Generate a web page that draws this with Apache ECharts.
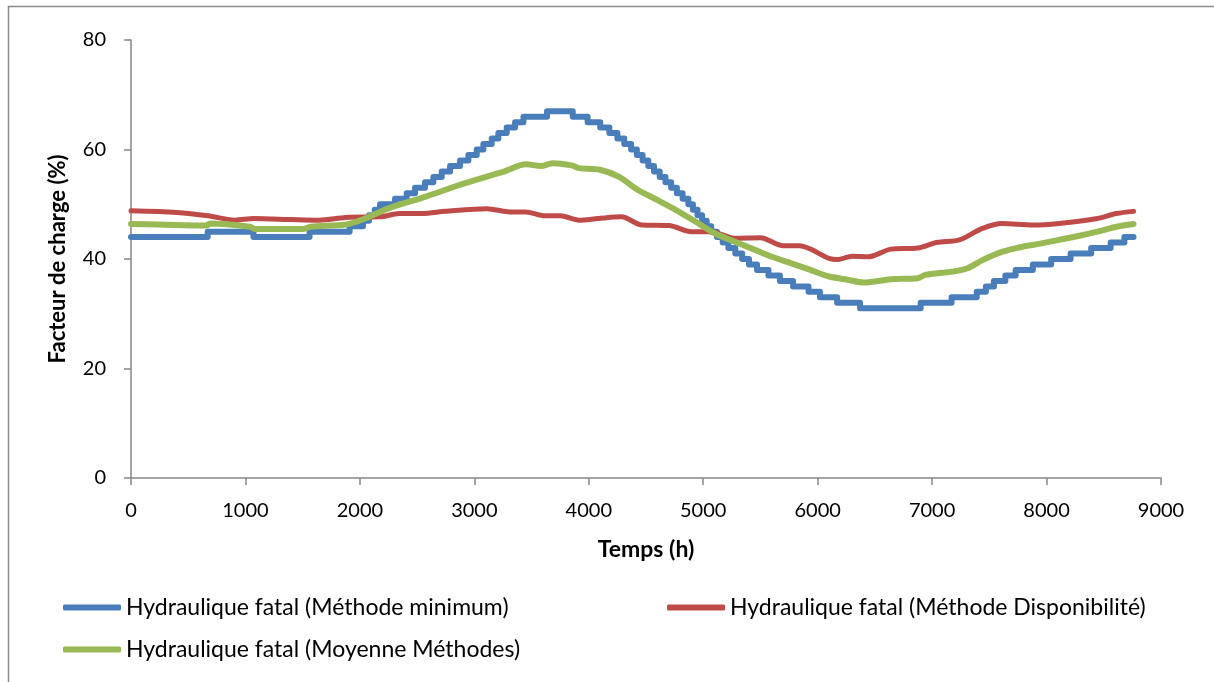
<!DOCTYPE html>
<html>
<head>
    <meta charset="utf-8">
    <title>Facteur de charge</title>
    <style>
        body{
            margin: 0;
            padding: 0;
            background: #fff;
        }
        #container{
            width: 1214px;
            height: 682px;
        }
    </style>
</head>
<body>
    <div id="container"></div>

    <script src="https://cdn.jsdelivr.net/npm/echarts@6/dist/echarts.min.js"></script>
    <script type="text/javascript">
    // noms des séries
    var nameMin = 'Hydraulique fatal (Méthode minimum)';
    var nameDispo = 'Hydraulique fatal (Méthode Disponibilité)';
    var nameMoy = 'Hydraulique fatal (Moyenne Méthodes)';

    // méthode minimum : paliers (heure de début, valeur)
    var minHours = [0, 670, 1070, 1560, 1910, 2027, 2080, 2130, 2176, 2307, 2409, 2482, 2569, 2642, 2715, 2788,
        2875, 2948, 3021, 3079, 3152, 3210, 3283, 3356, 3429, 3635, 3860, 3990, 4100, 4180, 4250, 4310,
        4370, 4420, 4470, 4520, 4570, 4620, 4670, 4720, 4770, 4820, 4870, 4910, 4950, 4990, 5030, 5070,
        5120, 5170, 5220, 5280, 5340, 5400, 5470, 5570, 5670, 5785, 5920, 6020, 6170, 6370, 6900, 7170,
        7390, 7470, 7540, 7640, 7730, 7880, 8040, 8210, 8390, 8560, 8680, 8760];
    var minValues = [44, 45, 44, 45, 46, 47, 48, 49, 50, 51, 52, 53, 54, 55, 56, 57,
        58, 59, 60, 61, 62, 63, 64, 65, 66, 67, 66, 65, 64, 63, 62, 61,
        60, 59, 58, 57, 56, 55, 54, 53, 52, 51, 50, 49, 48, 47, 46, 45,
        44, 43, 42, 41, 40, 39, 38, 37, 36, 35, 34, 33, 32, 31, 32, 33,
        34, 35, 36, 37, 38, 39, 40, 41, 42, 43, 44, 44];

    // méthode disponibilité
    var dispoHours = [0, 400, 673, 907, 1074, 1410, 1645, 1877, 2176, 2343, 2543, 2745, 3110, 3311, 3450, 3615,
        3750, 3915, 4083, 4285, 4465, 4700, 4900, 5070, 5270, 5500, 5700, 5840, 6100, 6170, 6305, 6440,
        6640, 6875, 7040, 7240, 7440, 7610, 7880, 8110, 8445, 8610, 8760];
    var dispoValues = [48.8, 48.5, 47.9, 47.1, 47.4, 47.2, 47.1, 47.6, 47.7, 48.3, 48.3, 48.7, 49.2, 48.6, 48.6, 47.9,
        47.9, 47.1, 47.4, 47.7, 46.2, 46.1, 45.0, 45.0, 43.8, 43.9, 42.4, 42.4, 40.1, 39.9, 40.5, 40.4,
        41.8, 42.0, 43.0, 43.5, 45.6, 46.5, 46.2, 46.5, 47.4, 48.3, 48.7];

    // moyenne des méthodes
    var moyHours = [0, 236, 660, 690, 1040, 1080, 1508, 1570, 1877, 2045, 2245, 2575, 2912, 3248, 3450, 3583,
        3684, 3850, 3915, 4098, 4265, 4430, 4597, 4767, 4935, 5100, 5270, 5436, 5600, 5770, 5937, 6100,
        6240, 6405, 6640, 6875, 6940, 7175, 7310, 7440, 7610, 7780, 7946, 8110, 8276, 8445, 8610, 8760];
    var moyValues = [46.4, 46.3, 46.1, 46.5, 45.9, 45.5, 45.5, 45.9, 46.3, 47.4, 49.2, 51.4, 53.8, 55.9, 57.3, 57.0,
        57.5, 57.1, 56.6, 56.3, 55.0, 52.6, 50.8, 48.9, 46.8, 44.7, 43.2, 41.8, 40.4, 39.2, 38.0, 36.8,
        36.3, 35.7, 36.3, 36.5, 37.1, 37.7, 38.3, 39.8, 41.3, 42.2, 42.8, 43.5, 44.2, 45.0, 45.9, 46.4];

    // ticks
    var xTicks = [0, 1000, 2000, 3000, 4000, 5000, 6000, 7000, 8000, 9000];
    var yTicks = [0, 20, 40, 60, 80];

    function pairs(xs, ys) {
        var out = [];
        for (var i = 0; i < xs.length; i++) out.push([xs[i], ys[i]]);
        return out;
    }

    var fontFam = 'Lato, "Open Sans", sans-serif';
    var axisGrey = '#868686';
    var legendText = {fontSize: 23, color: '#000', fontFamily: fontFam};

    var myChart = echarts.init(document.getElementById('container'), null, {renderer: 'canvas'});

    var option = {
        animation: false,
        backgroundColor: '#fff',
        textStyle: {fontFamily: fontFam},
        grid: {left: 131, right: 53, top: 40, bottom: 204, containLabel: false},
        graphic: [{
            // bordure de la zone du graphique
            type: 'rect',
            shape: {x: 8.5, y: 6.5, width: 1300, height: 800},
            style: {fill: 'none', stroke: '#8c8c8c', lineWidth: 1.5},
            silent: true
        }],
        legend: [{
            data: [nameMin],
            left: 58, top: 591,
            itemWidth: 58, itemHeight: 6, icon: 'roundRect',
            textStyle: legendText
        }, {
            data: [nameDispo],
            left: 662, top: 591,
            itemWidth: 58, itemHeight: 6, icon: 'roundRect',
            textStyle: legendText
        }, {
            data: [nameMoy],
            left: 58, top: 633,
            itemWidth: 58, itemHeight: 6, icon: 'roundRect',
            textStyle: legendText
        }],
        xAxis: {
            type: 'value',
            min: xTicks[0], max: xTicks[xTicks.length - 1], interval: 1000,
            name: 'Temps (h)',
            nameLocation: 'middle',
            nameGap: 60,
            nameTextStyle: {fontSize: 23, fontWeight: 'bold', color: '#000'},
            axisLine: {show: true, onZero: false, lineStyle: {color: axisGrey, width: 1.5}},
            axisTick: {show: true, inside: false, length: 7, lineStyle: {color: axisGrey, width: 1.5}},
            axisLabel: {fontSize: 20, color: '#000', margin: 23, formatter: function (v) { return String(v); }},
            splitLine: {show: false}
        },
        yAxis: {
            type: 'value',
            min: yTicks[0], max: yTicks[yTicks.length - 1], interval: 20,
            name: 'Facteur de charge (%)',
            nameLocation: 'middle',
            nameGap: 62,
            nameTextStyle: {fontSize: 22, fontWeight: 'bold', color: '#000'},
            axisLine: {show: true, lineStyle: {color: axisGrey, width: 1.5}},
            axisTick: {show: true, inside: false, length: 7, lineStyle: {color: axisGrey, width: 1.5}},
            axisLabel: {fontSize: 20, color: '#000', margin: 25},
            splitLine: {show: false}
        },
        series: [{
            name: nameMin,
            type: 'line',
            step: 'end',
            showSymbol: false,
            data: pairs(minHours, minValues),
            itemStyle: {color: '#4a7ebb'},
            lineStyle: {color: '#4a7ebb', width: 6, cap: 'round', join: 'round'},
            z: 2
        }, {
            name: nameDispo,
            type: 'line',
            smooth: 0.3,
            showSymbol: false,
            data: pairs(dispoHours, dispoValues),
            itemStyle: {color: '#be4b48'},
            lineStyle: {color: '#be4b48', width: 5, cap: 'round', join: 'round'},
            z: 3
        }, {
            name: nameMoy,
            type: 'line',
            smooth: 0.3,
            showSymbol: false,
            data: pairs(moyHours, moyValues),
            itemStyle: {color: '#98b954'},
            lineStyle: {color: '#98b954', width: 6, cap: 'round', join: 'round'},
            z: 4
        }]
    };

    myChart.setOption(option);
    </script>
</body>
</html>
